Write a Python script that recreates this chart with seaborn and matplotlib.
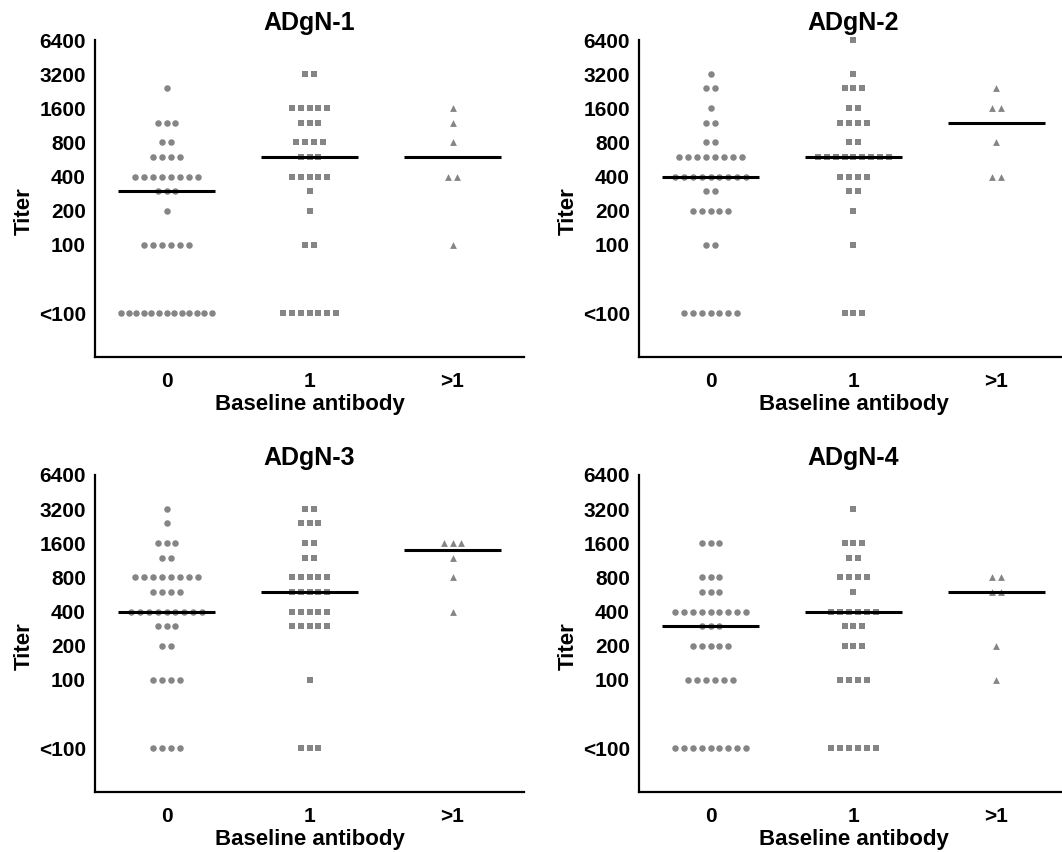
import numpy as np
import pandas as pd
import matplotlib.pyplot as plt
import seaborn as sns

# titer levels used for the rows; "<100" is drawn at 25
TITER_LEVELS = [25, 100, 200, 300, 400, 600, 800, 1200, 1600, 2400, 3200, 6400]
TICK_VALUES = [25, 100, 200, 400, 800, 1600, 3200, 6400]
TICK_LABELS = ['<100', '100', '200', '400', '800', '1600', '3200', '6400']
GROUPS = ['0', '1', '>1']
PANELS = ['ADgN-1', 'ADgN-2', 'ADgN-3', 'ADgN-4']

# number of subjects at each titer level (same order as TITER_LEVELS)
ADGN1_G0 = [13, 6, 1, 3, 8, 4, 2, 3, 0, 1, 0, 0]
ADGN1_G1 = [7, 2, 1, 1, 5, 3, 4, 3, 5, 0, 2, 0]
ADGN1_G2 = [0, 1, 0, 0, 2, 0, 1, 1, 1, 0, 0, 0]

ADGN2_G0 = [7, 2, 5, 2, 9, 8, 2, 2, 1, 2, 1, 0]
ADGN2_G1 = [3, 1, 1, 2, 4, 9, 2, 4, 2, 3, 1, 1]
ADGN2_G2 = [0, 0, 0, 0, 2, 0, 1, 0, 2, 1, 0, 0]

ADGN3_G0 = [4, 4, 2, 3, 9, 4, 8, 2, 3, 1, 1, 0]
ADGN3_G1 = [3, 1, 0, 5, 5, 5, 5, 2, 2, 3, 2, 0]
ADGN3_G2 = [0, 0, 0, 0, 1, 0, 1, 1, 3, 0, 0, 0]

ADGN4_G0 = [9, 6, 5, 3, 9, 3, 3, 0, 3, 0, 0, 0]
ADGN4_G1 = [6, 4, 3, 3, 6, 1, 4, 2, 3, 0, 1, 0]
ADGN4_G2 = [0, 1, 1, 0, 0, 2, 2, 0, 0, 0, 0, 0]

COUNTS = {
    'ADgN-1': [ADGN1_G0, ADGN1_G1, ADGN1_G2],
    'ADgN-2': [ADGN2_G0, ADGN2_G1, ADGN2_G2],
    'ADgN-3': [ADGN3_G0, ADGN3_G1, ADGN3_G2],
    'ADgN-4': [ADGN4_G0, ADGN4_G1, ADGN4_G2],
}

GRAY = '#858585'
MARKERS = {'0': 'o', '1': 's', '>1': '^'}
SIZES = {'0': 22, '1': 22, '>1': 24}
DX = 0.062      # horizontal gap between dots in a row
MAX_ROW = 0.63  # widest a row may get
HALF_LINE = 0.34


def build_frame():
    rows = []
    for panel in PANELS:
        for gi, grp in enumerate(GROUPS):
            for level, n in zip(TITER_LEVELS, COUNTS[panel][gi]):
                if n == 0:
                    continue
                step = DX if (n - 1) * DX <= MAX_ROW else MAX_ROW / (n - 1)
                offs = (np.arange(n) - (n - 1) / 2) * step
                for o in offs:
                    rows.append({'panel': panel, 'group': grp, 'pos': gi,
                                 'x': gi + o, 'titer': level})
    return pd.DataFrame(rows)


df = build_frame()

sns.set_theme(style="white")
plt.rcParams.update({
    'font.family': ['Liberation Sans', 'DejaVu Sans'],
    'font.weight': 'bold',
    'text.color': 'black',
    'axes.labelcolor': 'black',
    'xtick.color': 'black',
    'ytick.color': 'black',
})

fig = plt.figure(figsize=(10.62, 8.52), dpi=100)
W, H = 1062, 852
# axes rectangles in pixels: left, top, right, bottom
rects = [(95, 40, 524, 357), (639, 40, 1068, 357),
         (95, 475, 524, 792), (639, 475, 1068, 792)]

for panel, (l, t, r, b) in zip(PANELS, rects):
    ax = fig.add_axes([l / W, 1 - b / H, (r - l) / W, (b - t) / H])
    sub = df[df['panel'] == panel]
    for grp in GROUPS:
        g = sub[sub['group'] == grp]
        sns.scatterplot(data=g, x='x', y='titer', marker=MARKERS[grp],
                        s=SIZES[grp], color=GRAY, linewidth=0, legend=False,
                        ax=ax, clip_on=False, zorder=2)
        med = np.median(g['titer'])
        gi = GROUPS.index(grp)
        ax.hlines(med, gi - HALF_LINE, gi + HALF_LINE, color='black',
                  linewidth=2.2, zorder=3)

    ax.set_yscale('log', base=2)
    ax.set_ylim(10.3, 6400)
    ax.set_xlim(-0.5, 2.5)
    ax.set_yticks(TICK_VALUES)
    ax.set_yticklabels(TICK_LABELS)
    ax.minorticks_off()
    ax.set_xticks(range(len(GROUPS)))
    ax.set_xticklabels(GROUPS)
    ax.tick_params(axis='y', length=0, pad=6.5, labelsize=15, labelcolor='black')
    ax.tick_params(axis='x', length=0, pad=11, labelsize=15, labelcolor='black')
    for lab in ax.get_xticklabels() + ax.get_yticklabels():
        lab.set_fontweight('bold')

    ax.set_title(panel, fontsize=18, fontweight='bold', pad=7, color='black')
    ax.set_xlabel('Baseline antibody', fontsize=16, fontweight='bold',
                  labelpad=2, color='black')
    ax.set_ylabel('Titer', fontsize=16, fontweight='bold', color='black')
    ax.yaxis.set_label_coords(-0.14, 0.46)

    sns.despine(ax=ax)
    for side in ['left', 'bottom']:
        ax.spines[side].set_color('black')
        ax.spines[side].set_linewidth(1.6)
    ax.grid(False)

plt.savefig('out.png', dpi=100)
plt.close()
